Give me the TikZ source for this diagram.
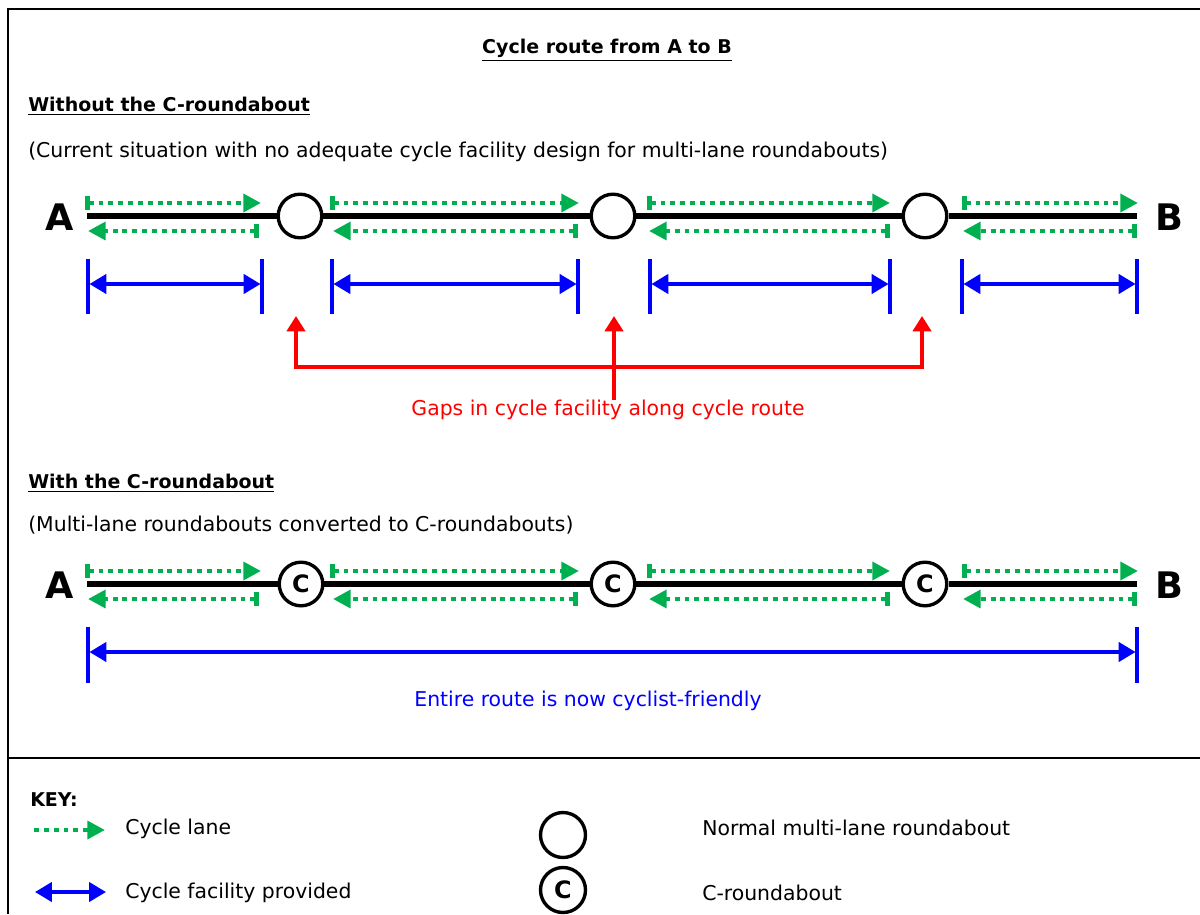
\documentclass[tikz,border=0pt]{standalone}
\usepackage{fontspec}
\setmainfont{DejaVu Sans}
\usetikzlibrary{arrows.meta}
\usetikzlibrary{positioning}
\definecolor{lanegreen}{RGB}{0,176,80}
\definecolor{facblue}{RGB}{0,0,255}
\definecolor{gapred}{RGB}{255,0,0}
\tikzset{
  txt/.style={font=\fontsize{14.5}{17}\selectfont, inner sep=0pt, anchor=west},
  heading/.style={font=\fontsize{13.5}{16}\selectfont\bfseries, inner sep=0pt},
  endpt/.style={font=\fontsize{26}{30}\selectfont\bfseries, inner sep=0pt},
  road/.style={line width=4.3pt, black},
  rbt/.style={circle, draw=black, line width=2.4pt, minimum size=31pt, inner sep=0pt,
    fill=white, font=\fontsize{17}{20}\selectfont\bfseries},
  lane/.style={draw=lanegreen, line width=3.5pt, dash pattern=on 3.5pt off 3.5pt,
    {Bar[width=9.5pt]}-{Triangle[length=12.5pt,width=12.5pt]}},
  facility/.style={draw=facblue, line width=2.8pt,
    {Triangle[length=12pt,width=13.5pt]}-{Triangle[length=12pt,width=13.5pt]}},
  facbar/.style={draw=facblue, line width=2.8pt},
  gap/.style={draw=gapred, line width=3.5pt, line join=miter,
    -{Triangle[length=11pt,width=13pt]}},
}

\begin{document}
\begin{tikzpicture}[x=0.025cm, y=-0.025cm]
    \useasboundingbox (0,0) rectangle (1200,914);
    % frame
    \draw[line width=1.4pt] (1200,9) -- (8,9) -- (8,914);
    \draw[line width=1.4pt] (8,758) -- (1200,758);

    % headings
    \node (title) [heading] at (607,50) {\underline{Cycle route from A to B}};
    \node (without) [heading, anchor=west] at (28,106) {\underline{Without the C-roundabout}};
    \node (now) [txt] at (28,152) {(Current situation with no adequate cycle facility design for multi-lane roundabouts)};

    % route without C-roundabouts
    \node (A1) [endpt] at (60,217) {A};
    \node (B1) [endpt] at (1169,217) {B};
    \coordinate (a1) at (87,216);
    \coordinate (b1) at (1137,216);
    \node (r1) [rbt] at (300,216) {};
    \node (r2) [rbt] at (613,216) {};
    \node (r3) [rbt] at (925,216) {};
    \draw[road] (a1) -- (r1) -- (r2) -- (r3) -- (b1);

    \foreach \s/\e in {85/261, 330/579, 647/890, 962/1138}
        \draw[lane] (\s,203) -- (\e,203);
    \foreach \s/\e in {259/88, 578/333, 890/649, 1137/963}
        \draw[lane] (\s,231) -- (\e,231);

    \foreach \l/\r [count=\i] in {88/262, 332/578, 650/890, 962/1137} {
        \coordinate (f\i l) at (\l,284);
        \coordinate (f\i r) at (\r,284);
        \draw[facbar] (\l,259) -- (\l,314);
        \draw[facbar] (\r,259) -- (\r,314);
        \draw[facility, shorten <=1pt, shorten >=1pt] (f\i l) -- (f\i r);
    }

    % gaps
    \node (gaps) [txt, anchor=center, text=gapred] at (608,410) {Gaps in cycle facility along cycle route};
    \coordinate (g1) at (296,316);
    \coordinate (g2) at (614,316);
    \coordinate (g3) at (922,316);
    \draw[gap, {Triangle[length=11pt,width=13pt]}-{Triangle[length=11pt,width=13pt]}]
        (g1) -- ++(0,51) -| (g3);
    \draw[gap] (gaps.north -| g2) -- (g2);

    % route with C-roundabouts
    \node (with) [heading, anchor=west] at (28,483) {\underline{With the C-roundabout}};
    \node (then) [txt] at (28,525) {(Multi-lane roundabouts converted to C-roundabouts)};
    \node (A2) [endpt] at (60,585) {A};
    \node (B2) [endpt] at (1169,585) {B};
    \coordinate (a2) at (87,584);
    \coordinate (b2) at (1137,584);
    \node (c1) [rbt] at (301,584) {C};
    \node (c2) [rbt] at (613,584) {C};
    \node (c3) [rbt] at (925,584) {C};
    \draw[road] (a2) -- (c1) -- (c2) -- (c3) -- (b2);

    \foreach \s/\e in {85/261, 330/579, 647/890, 962/1138}
        \draw[lane] (\s,571) -- (\e,571);
    \foreach \s/\e in {259/88, 578/333, 890/649, 1137/963}
        \draw[lane] (\s,599) -- (\e,599);

    \coordinate (e1) at (88,652);
    \coordinate (e2) at (1137,652);
    \draw[facbar] (88,627) -- (88,683);
    \draw[facbar] (1137,627) -- (1137,683);
    \draw[facility, shorten <=1pt, shorten >=1pt] (e1) -- (e2);
    \node (entire) [txt, anchor=center, text=facblue] at (588,701) {Entire route is now cyclist-friendly};

    % key
    \node (key) [heading, anchor=west] at (30,800) {KEY:};
    \coordinate (k1) at (34,830);
    \coordinate (k2) at (105,830);
    \draw[lane, -{Triangle[length=12.5pt,width=12.5pt]}] (k1) -- (k2);
    \node (lanekey) [txt] at (125,829) {Cycle lane};
    \coordinate (k3) at (35,892);
    \coordinate (k4) at (106,892);
    \draw[facility] (k3) -- (k4);
    \node (fackey) [txt] at (125,893) {Cycle facility provided};
    \node (rkey) [rbt, minimum size=32pt] at (563,835) {};
    \node (ckey) [rbt, minimum size=32pt] at (563,890) {C};
    \node (rtext) [txt] at (702,828) {Normal multi-lane roundabout};
    \node (ctext) [txt] at (702,893) {C-roundabout};
\end{tikzpicture}
\end{document}
